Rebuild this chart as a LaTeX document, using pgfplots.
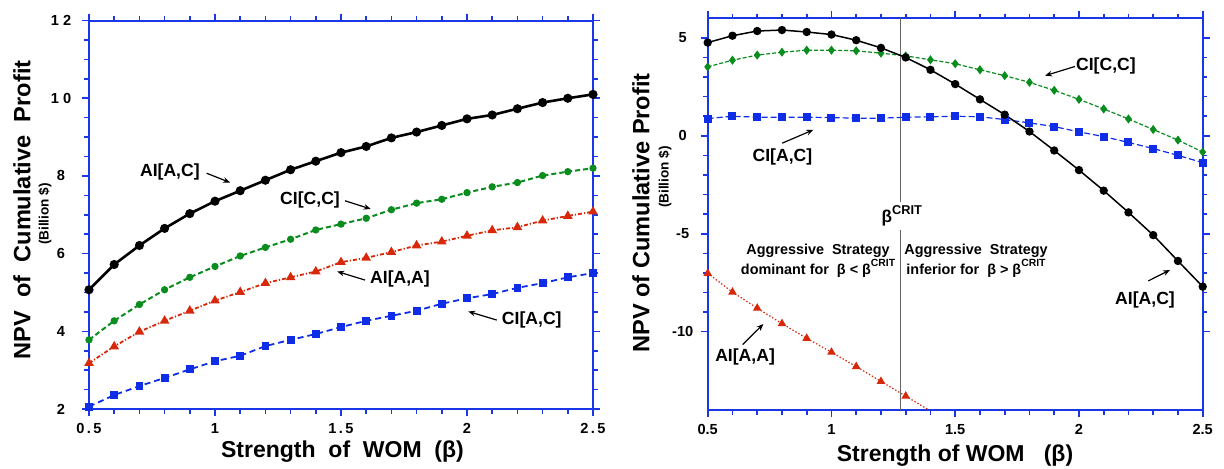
\documentclass[border=0pt]{standalone}
\usepackage{fontspec}
\setmainfont{Liberation Sans}
\usepackage{pgfplots}
\usepackage{pgfplotstable}
\pgfplotsset{compat=1.18}
\usetikzlibrary{arrows.meta}

\definecolor{axblue}{RGB}{25,55,230}
\definecolor{cgreen}{RGB}{10,140,30}
\definecolor{cred}{RGB}{215,40,10}
\definecolor{cblue}{RGB}{15,45,230}

% left panel
\pgfplotstableread{
x    aiac  cicc  aiaa  ciac
0.5  5.07  3.78  3.18  2.06
0.6  5.72  4.27  3.61  2.36
0.7  6.21  4.69  3.99  2.59
0.8  6.65  5.07  4.27  2.80
0.9  7.03  5.39  4.53  3.02
1.0  7.35  5.67  4.79  3.23
1.1  7.62  5.94  5.01  3.37
1.2  7.89  6.16  5.24  3.62
1.3  8.16  6.37  5.39  3.78
1.4  8.38  6.61  5.54  3.93
1.5  8.60  6.76  5.78  4.11
1.6  8.76  6.91  5.89  4.27
1.7  8.98  7.13  6.04  4.40
1.8  9.13  7.30  6.21  4.53
1.9  9.30  7.40  6.31  4.71
2.0  9.47  7.57  6.46  4.85
2.1  9.57  7.72  6.60  4.96
2.2  9.73  7.83  6.68  5.12
2.3  9.89  8.01  6.85  5.24
2.4  10.00 8.11  6.97  5.39
2.5  10.10 8.20  7.08  5.50
}\lefttab

% right panel
\pgfplotstableread{
x    aiac   cicc   ciac
0.5  4.76   3.52   0.88
0.6  5.11   3.86   1.00
0.7  5.35   4.12   0.95
0.8  5.40   4.27   0.95
0.9  5.30   4.37   0.95
1.0  5.17   4.37   0.93
1.1  4.88   4.34   0.90
1.2  4.49   4.22   0.90
1.3  4.00   4.08   0.95
1.4  3.37   3.88   0.97
1.5  2.64   3.68   1.00
1.6  1.86   3.37   0.97
1.7  1.08   3.07   0.83
1.8  0.22   2.73   0.66
1.9  -0.75  2.32   0.47
2.0  -1.75  1.86   0.20
2.1  -2.80  1.37   -0.04
2.2  -3.91  0.86   -0.34
2.3  -5.07  0.32   -0.65
2.4  -6.39  -0.22  -1.00
2.5  -7.70  -0.83  -1.37
}\righttab

\pgfplotstableread{
x    aiaa
0.5  -7.02
0.6  -7.98
0.7  -8.80
0.8  -9.59
0.9  -10.34
1.0  -11.05
1.1  -11.78
1.2  -12.54
1.3  -13.29
}\rightaa

\pgfplotsset{
  wom/.style={
    scale only axis,
    axis line style={axblue, line width=1pt},
    tick style={axblue, line width=0.8pt},
    tick align=outside,
    major tick length=3.5pt,
    minor tick length=2.3pt,
    xmin=0.5, xmax=2.5,
    xtick={0.5,1,1.5,2,2.5},
    minor x tick num=4,
    tick label style={font=\bfseries\fontsize{7.3}{8}\selectfont},
  },
}
\tikzset{
  ann/.style={font=\bfseries\fontsize{8.8}{10}\selectfont, inner sep=1pt},
  arr/.style={-{Stealth[length=3.5pt,width=2.8pt]}, line width=0.6pt},
  strat/.style={font=\bfseries\fontsize{7.2}{10}\selectfont, align=center},
}
\newcommand{\bcrit}{β\raisebox{0.55em}{\fontsize{5.2}{6}\selectfont CRIT}}

\begin{document}
\begin{tikzpicture}
\useasboundingbox (0,0) rectangle (612pt,234.5pt);

\begin{axis}[wom,
  at={(44.5pt,30pt)}, anchor=south west,
  width=252pt, height=194.2pt,
  ymin=2, ymax=12,
  ytick={2,4,6,8,10,12},
  minor y tick num=3,
  xticklabels={0\,.\,5,1,1\,.\,5,2,2\,.\,5},
  yticklabels={2,4,6,8,1\ 0,1\ 2},
  yticklabel style={anchor=center, xshift=-10.5pt},
]
\addplot[cblue, line width=0.9pt, dash pattern=on 3pt off 2pt, mark=square*, mark size=1.5pt, mark options={solid}] table[x=x,y=ciac] {\lefttab};
\addplot[cred, line width=0.9pt, dash pattern=on 2pt off 1pt on 0.6pt off 1pt, mark=triangle*, mark size=1.9pt, mark options={solid}] table[x=x,y=aiaa] {\lefttab};
\addplot[cgreen, line width=1pt, dash pattern=on 2.5pt off 1.5pt, mark=*, mark size=1.3pt, mark options={solid}] table[x=x,y=cicc] {\lefttab};
\addplot[black, line width=1.3pt, mark=*, mark size=1.6pt] table[x=x,y=aiac] {\lefttab};

\node[ann] at (axis cs:0.821,8.11) {AI[A,C]};
\draw[arr] (axis cs:0.967,8.07) -- (axis cs:1.060,7.83);
\node[ann] at (axis cs:1.377,7.39) {CI[C,C]};
\draw[arr] (axis cs:1.516,7.36) -- (axis cs:1.618,7.15);
\node[ann] at (axis cs:1.734,5.34) {AI[A,A]};
\draw[arr] (axis cs:1.595,5.32) -- (axis cs:1.485,5.54);
\node[ann] at (axis cs:2.257,4.28) {CI[A,C]};
\draw[arr] (axis cs:2.118,4.29) -- (axis cs:2.005,4.51);
\end{axis}

\begin{axis}[wom,
  at={(353.85pt,29.5pt)}, anchor=south west,
  width=247.5pt, height=195.85pt,
  ymin=-14, ymax=6,
  ytick={-10,-5,0,5},
  minor y tick num=4,
  xticklabels={0.5,1,1.5,2,2.5},
  yticklabels={-10,-5,0,5},
  yticklabel style={anchor=center, xshift=-9pt},
]
\addplot[gray!80!black, line width=0.7pt] coordinates {(1.28,-14) (1.28,6)};
\addplot[cred, line width=0.6pt, dash pattern=on 0.7pt off 1pt, mark=triangle*, mark size=1.9pt, mark options={solid}] table[x=x,y=aiaa] {\rightaa};
\addplot[cred, line width=0.6pt, dash pattern=on 0.7pt off 1pt] coordinates {(1.3,-13.29) (1.4,-14.05)};
\addplot[cblue, line width=0.6pt, dash pattern=on 3pt off 1.5pt, mark=square*, mark size=1.7pt, mark options={solid}] table[x=x,y=ciac] {\righttab};
\addplot[cgreen, line width=0.6pt, dash pattern=on 2pt off 1pt, mark=diamond*, mark size=1.8pt, mark options={solid}] table[x=x,y=cicc] {\righttab};
\addplot[black, line width=0.75pt, mark=*, mark size=1.7pt] table[x=x,y=aiac] {\righttab};

\node[fill=white, inner sep=2pt, font=\bfseries] at (axis cs:1.284,-4.10)
  {\fontsize{8.6}{10}\selectfont β\raisebox{3.8pt}{\fontsize{6.4}{7}\selectfont CRIT}};
\node[strat] at (axis cs:0.946,-6.36) {Aggressive\ \ Strategy\\dominant\ for\ \ β < \bcrit};
\node[strat] at (axis cs:1.584,-6.36) {Aggressive\ \ Strategy\\inferior\ for\ \ β > \bcrit};

\node[ann] at (axis cs:0.802,-1.09) {CI[A,C]};
\draw[arr] (axis cs:0.801,-0.376) -- (axis cs:0.927,0.305);
\node[ann] at (axis cs:2.109,3.57) {CI[C,C]};
\draw[arr] (axis cs:1.984,3.54) -- (axis cs:1.863,3.07);
\node[ann] at (axis cs:2.267,-8.37) {AI[A,C]};
\draw[arr] (axis cs:2.280,-7.41) -- (axis cs:2.368,-6.85);
\node[ann] at (axis cs:0.651,-11.31) {AI[A,A]};
\draw[arr] (axis cs:0.641,-10.66) -- (axis cs:0.725,-9.61);
\end{axis}

% axis titles
\node[rotate=90, font=\bfseries\fontsize{11.8}{13}\selectfont] at (11pt,129.5pt) {NPV\ \ of\ \ Cumulative\ \ Profit};
\node[rotate=90, font=\bfseries\fontsize{6.8}{8}\selectfont] at (22.5pt,127.5pt) {(Billion \$)};
\node[font=\bfseries\fontsize{11.5}{13}\selectfont] at (171.25pt,8.85pt) {Strength\ \ of\ \ WOM\ \ (β)};
\node[rotate=90, font=\bfseries\fontsize{11.8}{13}\selectfont] at (320.5pt,128pt) {NPV of Cumulative Profit};
\node[rotate=90, font=\bfseries\fontsize{6.8}{8}\selectfont] at (332.5pt,146pt) {(Billion \$)};
\node[font=\bfseries\fontsize{11.5}{13}\selectfont] at (477.5pt,6.75pt) {Strength of WOM\ \ \ (β)};
\end{tikzpicture}
\end{document}
